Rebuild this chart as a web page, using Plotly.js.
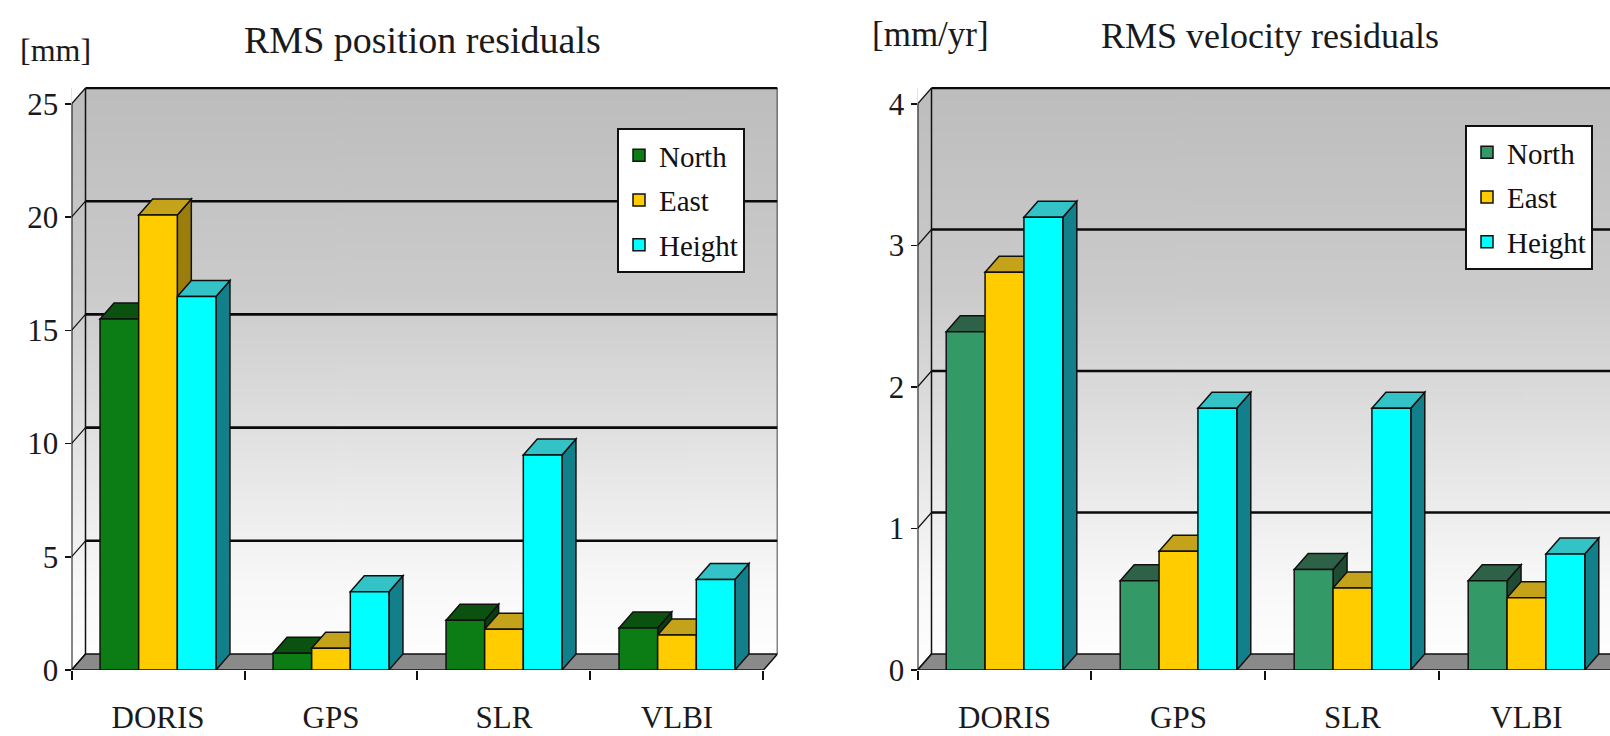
<!DOCTYPE html>
<html>
<head>
<meta charset="utf-8">
<script src="https://cdn.plot.ly/plotly-3.0.1.min.js"></script>
<style>html,body{margin:0;padding:0;background:#fff;} #chart{width:1610px;height:736px;}</style>
</head>
<body>
<div id="chart"></div>
<script>
// ---- data ----
const categories = ['DORIS', 'GPS', 'SLR', 'VLBI'];
const seriesNames = ['North', 'East', 'Height'];
const posNorth  = [15.5, 0.74, 2.2, 1.85];
const posEast   = [20.1, 0.96, 1.8, 1.55];
const posHeight = [16.5, 3.46, 9.5, 4.0];
const velNorth  = [2.39, 0.63, 0.71, 0.63];
const velEast   = [2.81, 0.84, 0.58, 0.51];
const velHeight = [3.20, 1.85, 1.85, 0.82];
const posTicks = [0, 5, 10, 15, 20, 25];
const velTicks = [0, 1, 2, 3, 4];

// ---- styling ----
const FONT = 'Liberation Serif, Times New Roman, serif';
const posColors = {face: ['#0b7d14', '#ffcc00', '#00ffff'], top: ['#0b5210', '#c4a21a', '#33c2c6'], side: ['#083f0c', '#9a7d0a', '#12808a']};
const velColors = {face: ['#339966', '#ffcc00', '#00ffff'], top: ['#2d6248', '#c4a21a', '#33c2c6'], side: ['#1f4a34', '#9a7d0a', '#12808a']};
const BARGAP = 0.33;
const DX_PX = 14, DY_PX = 16;

// gradient for back wall
function gradientURL() {
  const c = document.createElement('canvas');
  c.width = 4; c.height = 400;
  const g = c.getContext('2d');
  const gr = g.createLinearGradient(0, 0, 0, 400);
  gr.addColorStop(0, '#bdbdbd');
  gr.addColorStop(0.35, '#cbcbcb');
  gr.addColorStop(0.65, '#e6e6e6');
  gr.addColorStop(0.85, '#f8f8f8');
  gr.addColorStop(1, '#ffffff');
  g.fillStyle = gr; g.fillRect(0, 0, 4, 400);
  return c.toDataURL();
}

function build(opt) {
  const {values, colors, xa, ya, ticks, xRange, yRange, domX, domY} = opt;
  const pxPerCat = (domX[1] - domX[0]) * 1610 / (xRange[1] - xRange[0]);
  const pxPerUnit = (domY[1] - domY[0]) * 736 / (yRange[1] - yRange[0]);
  const dx = DX_PX / pxPerCat, dy = DY_PX / pxPerUnit;
  const ymax = ticks[ticks.length - 1];
  const x0 = -0.5, x1 = categories.length - 0.5;
  const xr = xa.replace('axis', ''), yr = ya.replace('axis', '');
  const shapes = [];
  const line = (ax, ay, bx, by, w, c) => shapes.push({type: 'line', xref: xr, yref: yr, x0: ax, y0: ay, x1: bx, y1: by, layer: 'below', line: {color: c || '#111', width: w || 2}});
  const poly = (pts, fill, lw) => shapes.push({type: 'path', xref: xr, yref: yr, layer: 'below',
    path: 'M' + pts.map(p => p[0] + ',' + p[1]).join(' L') + ' Z', fillcolor: fill, line: {color: '#111', width: lw === undefined ? 1.5 : lw}});
  // mask top-left triangle above side wall
  poly([[x0, ymax], [x0, yRange[1]], [x0 + dx, yRange[1]], [x0 + dx, ymax + dy]], '#ffffff', 0);
  // floor
  poly([[x0, 0], [x1, 0], [x1 + dx, dy], [x0 + dx, dy]], '#8a8a8a', 1.5);
  // back wall grid lines and side diagonals
  ticks.forEach(v => {
    if (v > 0) line(x0 + dx, v + dy, x1 + dx, v + dy, 2.6, '#0a0a0a');
    line(x0, v, x0 + dx, v + dy, 1.2);
  });
  line(x0 + dx, dy, x0 + dx, ymax + dy, 1.5);
  line(x1 + dx, dy, x1 + dx, ymax + dy, 1.5);
  line(x0, 0, x0, ymax, 2);
  // 3D tops and sides of bars
  const w = (1 - BARGAP) / values.length;
  categories.forEach((c, j) => {
    values.forEach((arr, i) => {
      const v = arr[j];
      const l = j - (values.length / 2) * w + i * w, r = l + w;
      poly([[r, 0], [r, v], [r + dx, v + dy], [r + dx, dy]], colors.side[i], 1.5);
      poly([[l, v], [r, v], [r + dx, v + dy], [l + dx, v + dy]], colors.top[i], 1.5);
    });
  });
  // gradient background (paper refs => drawn beneath the plot area)
  const yToPaper = v => domY[0] + (v - yRange[0]) / (yRange[1] - yRange[0]) * (domY[1] - domY[0]);
  const image = {source: gradientURL(), xref: 'paper', yref: 'paper',
    x: domX[0], y: yToPaper(ymax + dy), sizex: domX[1] - domX[0], sizey: yToPaper(ymax + dy) - yToPaper(0),
    xanchor: 'left', yanchor: 'top', sizing: 'stretch', layer: 'below'};
  return {shapes, image};
}

const domY = [(736 - 670) / 736, (736 - 87) / 736];
const L = {values: [posNorth, posEast, posHeight], colors: posColors, xa: 'xaxis', ya: 'yaxis', ticks: posTicks,
  xRange: [-0.5, 3.581], yRange: [0, 25.75], domX: [71.5 / 1610, 777.5 / 1610], domY};
const R = {values: [velNorth, velEast, velHeight], colors: velColors, xa: 'xaxis2', ya: 'yaxis2', ticks: velTicks,
  xRange: [-0.5, 3.48], yRange: [0, 4.12], domX: [917.5 / 1610, 1], domY};
const bL = build(L), bR = build(R);

const traces = [];
[L, R].forEach((P, k) => {
  P.values.forEach((arr, i) => {
    traces.push({
      type: 'bar', name: seriesNames[i], x: categories, y: arr,
      xaxis: k ? 'x2' : 'x', yaxis: k ? 'y2' : 'y', legend: k ? 'legend2' : 'legend',
      legendgroup: (k ? 'v' : 'p') + i,
      marker: {color: P.colors.face[i], line: {color: '#111', width: 1.5}},
      hoverinfo: 'x+y+name'
    });
  });
});

function xAxis(P) {
  return {domain: P.domX, range: P.xRange, type: 'category', showgrid: false, zeroline: false, showline: false,
    ticks: 'outside', tickson: 'boundaries', ticklen: 9, tickwidth: 2, tickcolor: '#111',
    ticklabelstandoff: 26, tickfont: {family: FONT, size: 31, color: '#1a1a1a'}, fixedrange: true};
}
function yAxis(P, anchor) {
  return {domain: P.domY, range: P.yRange, showgrid: false, zeroline: false, showline: false, anchor,
    tickvals: P.ticks, ticks: 'outside', ticklen: 6, tickwidth: 1.5, tickcolor: '#111',
    tickfont: {family: FONT, size: 31, color: '#1a1a1a'}, fixedrange: true};
}
const xa1 = xAxis(L); xa1.anchor = 'y';
const xa2 = xAxis(R); xa2.anchor = 'y2';

const legendBase = {bgcolor: '#ffffff', bordercolor: '#111', borderwidth: 2,
  font: {family: FONT, size: 29, color: '#111'}, xanchor: 'left', yanchor: 'top', itemwidth: 30, tracegroupgap: 4};

const ann = (text, x, y, size) => ({text, x: x / 1610, y: 1 - y / 736, xref: 'paper', yref: 'paper', showarrow: false,
  xanchor: 'center', yanchor: 'middle', font: {family: FONT, size, color: '#1a1a1a'}});

const layout = {
  width: 1610, height: 736, margin: {l: 0, r: 0, t: 0, b: 0},
  paper_bgcolor: '#ffffff', plot_bgcolor: 'rgba(0,0,0,0)',
  barmode: 'group', bargap: BARGAP, bargroupgap: 0,
  xaxis: xa1, yaxis: yAxis(L, 'x'), xaxis2: xa2, yaxis2: yAxis(R, 'x2'),
  showlegend: true,
  legend: Object.assign({}, legendBase, {x: 617 / 1610, y: 1 - 128 / 736}),
  legend2: Object.assign({}, legendBase, {x: 1465 / 1610, y: 1 - 125 / 736}),
  shapes: bL.shapes.concat(bR.shapes),
  images: [bL.image, bR.image],
  annotations: [
    ann('RMS position residuals', 422, 40, 38),
    ann('[mm]', 55, 50, 32),
    ann('RMS velocity residuals', 1270, 36, 36),
    ann('[mm/yr]', 930, 34, 35)
  ]
};

Plotly.newPlot('chart', traces, layout, {displayModeBar: false, staticPlot: true});
</script>
</body>
</html>
